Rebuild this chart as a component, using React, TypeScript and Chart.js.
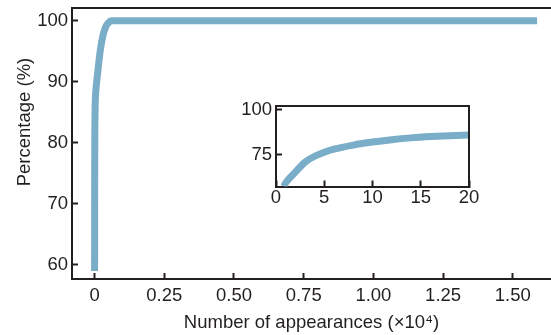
import React, { useEffect, useRef } from "react";
import { Chart, registerables } from "chart.js";

Chart.register(...registerables);

// ---- data ----
const mainX = [0, 0.0001, 0.0002, 0.0003, 0.0005, 0.0008, 0.001, 0.0015, 0.002, 0.005, 0.01, 0.02, 0.03, 0.04, 0.05, 0.06, 0.1, 1.587];
const mainY = [59, 59.7, 65.5, 71, 76.5, 80.5, 82.2, 84.6, 86.1, 88.8, 91, 95, 97.6, 99, 99.7, 100, 100, 100];
const insetX = [0.8, 1, 2, 3, 4, 5, 6, 8, 10, 12, 14, 16, 18, 20];
const insetY = [57.5, 59.5, 65.5, 71, 74.3, 76.5, 78.2, 80.5, 82.2, 83.5, 84.5, 85.2, 85.7, 86.1];

const mainXTicks = [0, 0.25, 0.5, 0.75, 1.0, 1.25, 1.5];
const mainXTickLabels = ["0", "0.25", "0.50", "0.75", "1.00", "1.25", "1.50"];
const mainYTicks = [60, 70, 80, 90, 100];
const insetXTicks = [0, 5, 10, 15, 20];
const insetYTicks = [75, 100];

const xTitle = "Number of appearances (\u00d710\u2074)";
const yTitle = "Percentage (%)";

// ---- styles ----
const LINE = "#7aadc8";
const INK = "#231f20";
const FAMILY = "'Liberation Sans', Arial, Helvetica, sans-serif";
const FS = 18.5;

const framePlugin = {
  id: "frame",
  afterDraw(chart: any, _args: any, opts: any) {
    const { ctx, chartArea: a } = chart;
    ctx.save();
    ctx.strokeStyle = INK;
    ctx.lineWidth = 2;
    ctx.beginPath();
    if (opts.top) {
      ctx.moveTo(a.left - 1, a.top);
      ctx.lineTo(a.right + 1, a.top);
    }
    if (opts.right) {
      ctx.moveTo(a.right, a.top);
      ctx.lineTo(a.right, a.bottom);
    }
    ctx.stroke();
    if (opts.yTitle) {
      ctx.fillStyle = INK;
      ctx.font = `${FS}px ${FAMILY}`;
      ctx.textAlign = "center";
      ctx.textBaseline = "middle";
      ctx.translate(opts.yTitleX, opts.yTitleY);
      ctx.rotate(-Math.PI / 2);
      ctx.fillText(opts.yTitle, 0, 0);
    }
    ctx.restore();
  },
};

function axisCommon(tickValues: number[], labels?: string[], padding = 8) {
  return {
    type: "linear" as const,
    afterBuildTicks: (s: any) => {
      s.ticks = tickValues.map((v) => ({ value: v }));
    },
    ticks: {
      color: INK,
      font: { family: FAMILY, size: FS },
      padding,
      autoSkip: false,
      maxRotation: 0,
      callback: (v: any) => (labels ? labels[tickValues.indexOf(v)] : String(v)),
    },
    grid: {
      drawOnChartArea: false,
      drawTicks: true,
      tickLength: -6,
      tickWidth: 2,
      color: INK,
    },
    border: { display: true, color: INK, width: 2 },
  };
}

export default function App() {
  const mainRef = useRef<HTMLCanvasElement>(null);
  const insetRef = useRef<HTMLCanvasElement>(null);

  useEffect(() => {
    const main = new Chart(mainRef.current!, {
      type: "line",
      data: {
        datasets: [
          {
            data: mainX.map((x, i) => ({ x, y: mainY[i] })),
            borderColor: LINE,
            borderWidth: 7,
            pointRadius: 0,
            cubicInterpolationMode: "monotone",
            borderCapStyle: "butt",
            borderJoinStyle: "round",
          },
        ],
      },
      options: {
        responsive: false,
        animation: false,
        events: [],
        layout: { padding: { top: 8, left: 0, right: 0, bottom: 0 } },
        plugins: {
          legend: { display: false },
          tooltip: { enabled: false },
          frame: { top: true, yTitle, yTitleX: 25, yTitleY: 122 },
        } as any,
        scales: {
          x: {
            ...axisCommon(mainXTicks, mainXTickLabels, 12),
            min: -0.081,
            max: 1.637,
            title: {
              display: true,
              text: xTitle,
              color: INK,
              font: { family: FAMILY, size: FS },
              padding: { top: 0, bottom: 1 },
            },
            afterFit: (s: any) => {
              s.height = 56;
              s.paddingLeft = 0;
              s.paddingRight = 0;
            },
          },
          y: {
            ...axisCommon(mainYTicks, undefined, 10),
            min: 57.7,
            max: 102.1,
            afterFit: (s: any) => {
              s.width = 72;
              s.paddingTop = 0;
              s.paddingBottom = 0;
            },
          },
        },
      },
      plugins: [framePlugin],
    } as any);

    const inset = new Chart(insetRef.current!, {
      type: "line",
      data: {
        datasets: [
          {
            data: insetX.map((x, i) => ({ x, y: insetY[i] })),
            borderColor: LINE,
            borderWidth: 7,
            pointRadius: 0,
            cubicInterpolationMode: "monotone",
            borderCapStyle: "butt",
          },
        ],
      },
      options: {
        responsive: false,
        animation: false,
        events: [],
        layout: { padding: { top: 11, left: 0, right: 11, bottom: 0 } },
        plugins: {
          legend: { display: false },
          tooltip: { enabled: false },
          frame: { top: true, right: true },
        } as any,
        scales: {
          x: {
            ...axisCommon(insetXTicks, undefined, 6),
            min: 0,
            max: 20,
            afterFit: (s: any) => {
              s.height = 23.5;
              s.paddingLeft = 0;
              s.paddingRight = 0;
            },
          },
          y: {
            ...axisCommon(insetYTicks, undefined, 10),
            min: 57.5,
            max: 102.2,
            afterFit: (s: any) => {
              s.width = 46;
              s.paddingTop = 0;
              s.paddingBottom = 0;
            },
          },
        },
      },
      plugins: [framePlugin],
    } as any);

    return () => {
      main.destroy();
      inset.destroy();
    };
  }, []);

  return (
    <div style={{ position: "absolute", left: 0, top: 0, width: 551, height: 335, background: "#fff" }}>
      <canvas ref={mainRef} width={551} height={335} style={{ position: "absolute", left: 0, top: 0 }} />
      <canvas ref={insetRef} width={250} height={115} style={{ position: "absolute", left: 230, top: 95 }} />
    </div>
  );
}
